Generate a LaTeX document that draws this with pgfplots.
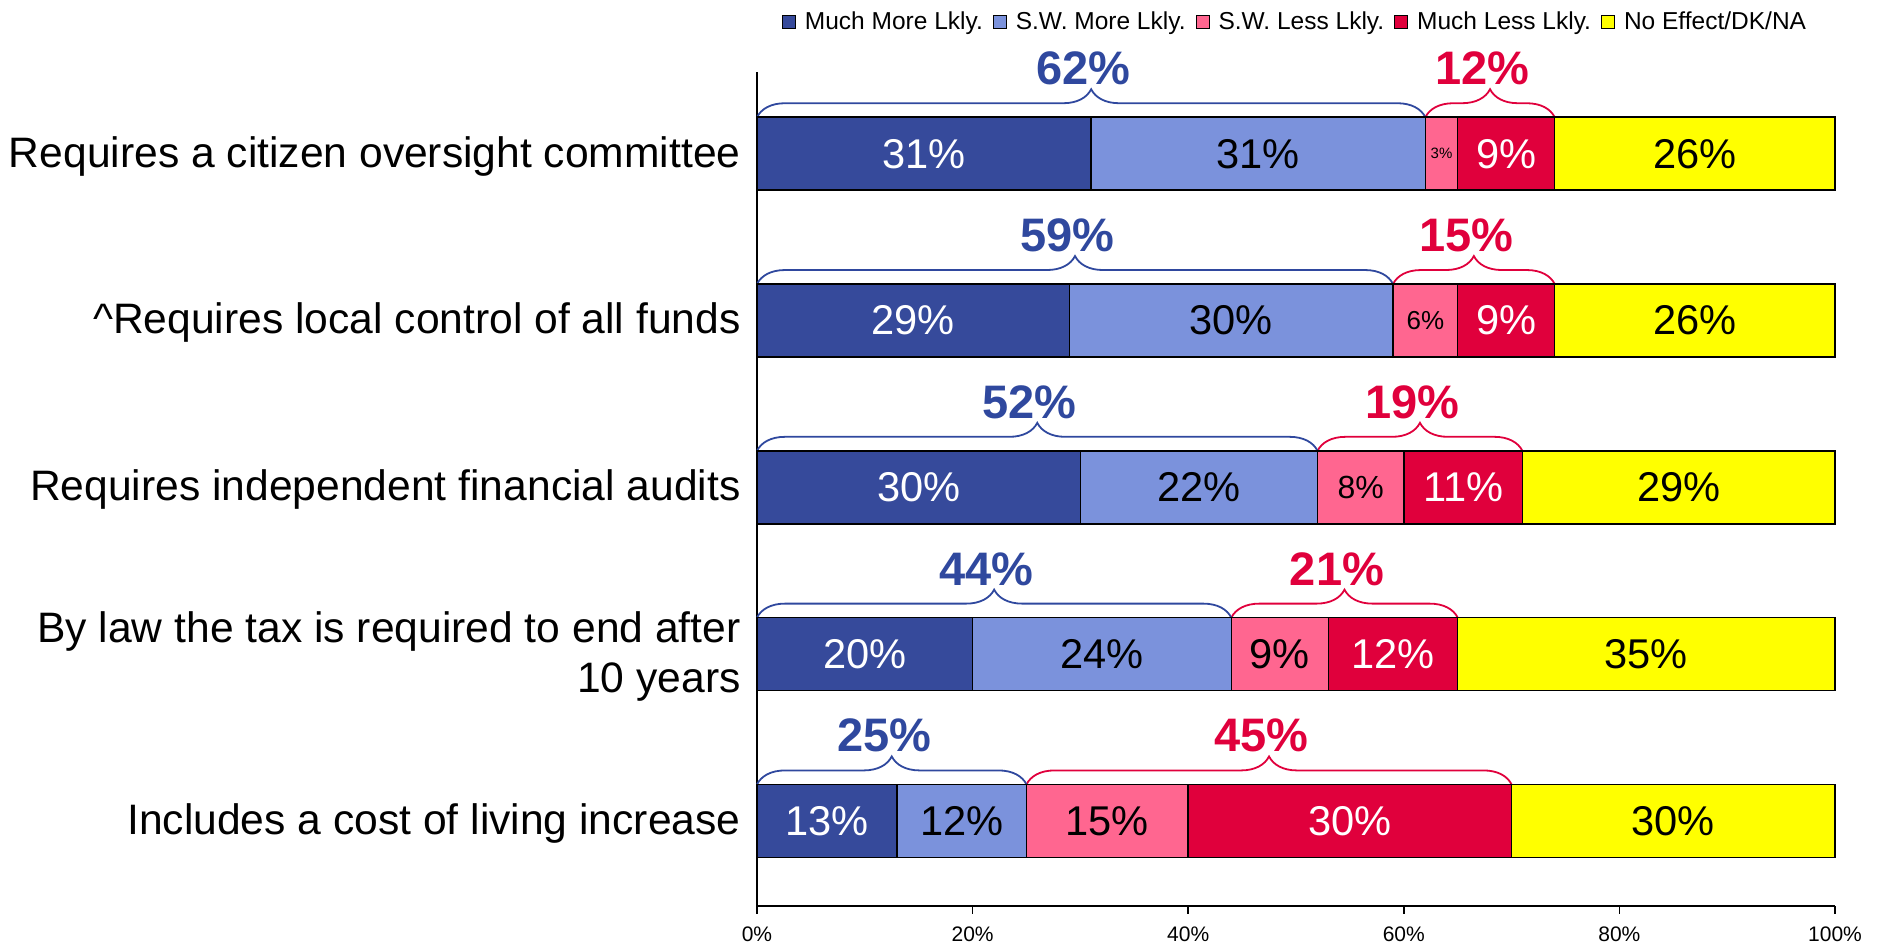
\documentclass[border=0pt]{standalone}
\usepackage{fontspec}
\setmainfont{Liberation Sans}
\usepackage{pgfplots}
\pgfplotsset{compat=1.18}
\usepackage{pgfplotstable}
\usetikzlibrary{decorations.pathreplacing}

\definecolor{mm}{RGB}{54,74,155}
\definecolor{swm}{RGB}{123,146,220}
\definecolor{swl}{RGB}{255,102,144}
\definecolor{ml}{RGB}{224,0,60}
\definecolor{ne}{RGB}{255,255,0}
\definecolor{bb}{RGB}{47,72,158}

\pgfplotstableread{
y a b c d e
4 31 31 3 9 26
3 29 30 6 9 26
2 30 22 8 11 29
1 20 24 9 12 35
0 13 12 15 30 30
}\data

% smaller label sizes for narrow segments
\expandafter\def\csname fs3\endcsname{\fontsize{7.5}{8}\selectfont}
\expandafter\def\csname fs6\endcsname{\fontsize{13}{14}\selectfont}
\expandafter\def\csname fs8\endcsname{\fontsize{16}{17}\selectfont}

\pgfplotsset{
  base/.style={scale only axis, width=539pt, height=417pt,
    xmin=0, xmax=100, ymin=-0.51, ymax=4.49,
    at={(378.5pt,-453pt)}, anchor=south west},
  lab/.style={draw=none, mark=none, point meta=explicit symbolic,
    nodes near coords={\pgfplotspointmeta\%},
    every node near coord/.style={anchor=center, inner sep=0pt,
      font=\fontsize{20.8}{21}\selectfont, text=#1}},
}

\begin{document}
\begin{tikzpicture}
\path[use as bounding box] (0,0) rectangle (940.5pt,-472.5pt);
\begin{axis}[base,
  xbar stacked, bar width=36.5pt,
  axis x line*=bottom, axis y line*=left,
  axis line style={black, line width=0.75pt},
  xtick={0,20,40,60,80,100},
  xticklabels={0\%,20\%,40\%,60\%,80\%,100\%},
  xticklabel style={font=\fontsize{10.5}{12}\selectfont, inner sep=0pt, yshift=-6pt},
  tick align=outside, major tick length=4pt,
  xtick style={black, line width=0.75pt},
  ytick={0,1,2,3,4},
  yticklabels={Includes a cost of living increase,
    {By law the tax is required to end after\\10 years},
    Requires independent financial audits,
    \textasciicircum Requires local control of all funds,
    Requires a citizen oversight committee},
  yticklabel style={align=right, font=\fontsize{21.3}{25}\selectfont, inner sep=0pt, xshift=-4pt, yshift=-1.2pt},
  ytick style={draw=none},
  legend style={at={(0.5,1)}, anchor=center, yshift=25pt, draw=none, fill=none,
    font=\fontsize{12.25}{14}\selectfont, legend columns=-1,
    /tikz/every odd column/.append style={column sep=2.5pt},
    /tikz/every even column/.append style={column sep=3pt}},
  legend image code/.code={\draw[#1, draw=black, line width=0.5pt] (0pt,-3.25pt) rectangle (6.5pt,3.25pt);},
  every axis plot/.append style={draw=black, line width=0.75pt},
  clip=false,
]
\addplot[fill=mm] table[x=a, y=y]{\data};
\addplot[fill=swm] table[x=b, y=y]{\data};
\addplot[fill=swl] table[x=c, y=y]{\data};
\addplot[fill=ml] table[x=d, y=y]{\data};
\addplot[fill=ne] table[x=e, y=y]{\data};
\legend{Much More Lkly., S.W. More Lkly., S.W. Less Lkly., Much Less Lkly., No Effect/DK/NA}

% braces
\tikzset{brB/.style={bb, line width=0.9pt, decorate, decoration={brace, amplitude=14pt}},
         brR/.style={ml, line width=0.9pt, decorate, decoration={brace, amplitude=14pt}},
         lbB/.style={anchor=base, inner sep=0pt, xshift=-3.8pt, text=bb, font=\bfseries\fontsize{23.5}{24}\selectfont},
         lbR/.style={anchor=base, inner sep=0pt, xshift=-3.8pt, text=ml, font=\bfseries\fontsize{23.5}{24}\selectfont}}
\draw[brB] ([yshift=18.25pt]axis cs:0,4) -- ([yshift=18.25pt]axis cs:62,4);
\draw[brR] ([yshift=18.25pt]axis cs:62,4) -- ([yshift=18.25pt]axis cs:74,4);
\node[lbB] at ([yshift=34.5pt]axis cs:31,4) {62\%};
\node[lbR] at ([yshift=34.5pt]axis cs:68,4) {12\%};
\draw[brB] ([yshift=18.25pt]axis cs:0,3) -- ([yshift=18.25pt]axis cs:59,3);
\draw[brR] ([yshift=18.25pt]axis cs:59,3) -- ([yshift=18.25pt]axis cs:74,3);
\node[lbB] at ([yshift=34.5pt]axis cs:29.5,3) {59\%};
\node[lbR] at ([yshift=34.5pt]axis cs:66.5,3) {15\%};
\draw[brB] ([yshift=18.25pt]axis cs:0,2) -- ([yshift=18.25pt]axis cs:52,2);
\draw[brR] ([yshift=18.25pt]axis cs:52,2) -- ([yshift=18.25pt]axis cs:71,2);
\node[lbB] at ([yshift=34.5pt]axis cs:26,2) {52\%};
\node[lbR] at ([yshift=34.5pt]axis cs:61.5,2) {19\%};
\draw[brB] ([yshift=18.25pt]axis cs:0,1) -- ([yshift=18.25pt]axis cs:44,1);
\draw[brR] ([yshift=18.25pt]axis cs:44,1) -- ([yshift=18.25pt]axis cs:65,1);
\node[lbB] at ([yshift=34.5pt]axis cs:22,1) {44\%};
\node[lbR] at ([yshift=34.5pt]axis cs:54.5,1) {21\%};
\draw[brB] ([yshift=18.25pt]axis cs:0,0) -- ([yshift=18.25pt]axis cs:25,0);
\draw[brR] ([yshift=18.25pt]axis cs:25,0) -- ([yshift=18.25pt]axis cs:70,0);
\node[lbB] at ([yshift=34.5pt]axis cs:12.5,0) {25\%};
\node[lbR] at ([yshift=34.5pt]axis cs:47.5,0) {45\%};
\end{axis}

\begin{axis}[base, hide axis, clip=false]
\addplot[lab=white] table[x expr=\thisrow{a}/2, y=y, meta=a]{\data};
\addplot[lab=black] table[x expr=\thisrow{a}+\thisrow{b}/2, y=y, meta=b]{\data};
\addplot[lab=black,
  nodes near coords={\csname fs\pgfplotspointmeta\endcsname\pgfplotspointmeta\%}]
  table[x expr=\thisrow{a}+\thisrow{b}+\thisrow{c}/2, y=y, meta=c]{\data};
\addplot[lab=white] table[x expr=\thisrow{a}+\thisrow{b}+\thisrow{c}+\thisrow{d}/2, y=y, meta=d]{\data};
\addplot[lab=black] table[x expr=\thisrow{a}+\thisrow{b}+\thisrow{c}+\thisrow{d}+\thisrow{e}/2, y=y, meta=e]{\data};
\end{axis}
\end{tikzpicture}
\end{document}
